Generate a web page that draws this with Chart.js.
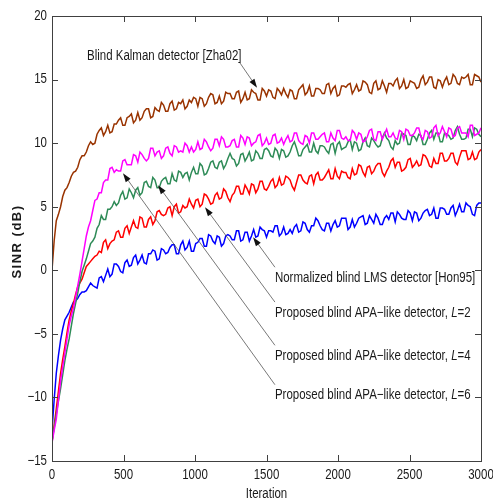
<!DOCTYPE html>
<html>
<head>
<meta charset="utf-8">
<script src="https://cdn.jsdelivr.net/npm/chart.js@4.4.1/dist/chart.umd.min.js"></script>
<style>
  html, body { margin: 0; padding: 0; background: #fff; }
  #wrap { width: 493px; height: 502px; }
</style>
</head>
<body>
<div id="wrap"><canvas id="sinrChart" width="493" height="502"></canvas></div>
<script>
// iteration index of each sample (every 15 iterations)
const iterations = Array.from({ length: 201 }, (_, i) => i * 15);

// SINR (dB)
const kalman = [0, 2.3, 3.9, 4.4, 5.0, 5.8, 6.3, 6.5, 6.9, 7.4,
  7.7, 7.8, 8.1, 8.7, 9.0, 9.0, 9.3, 9.8, 10.1, 9.9,
  10.0, 10.7, 11.0, 11.2, 10.6, 10.9, 11.4, 10.8, 10.9, 11.5,
  11.5, 11.8, 12.0, 11.4, 11.4, 12.0, 12.1, 12.3, 11.6, 11.8,
  12.4, 11.8, 12.0, 12.5, 12.7, 12.7, 12.0, 12.1, 12.8, 12.6,
  12.5, 13.2, 13.0, 12.5, 12.5, 13.1, 13.3, 12.6, 12.7, 13.2,
  13.1, 13.4, 12.7, 12.9, 13.4, 13.2, 13.6, 13.5, 12.9, 13.6,
  13.5, 12.9, 13.1, 13.6, 13.9, 13.8, 13.1, 13.2, 13.7, 13.1,
  13.3, 14.0, 13.9, 13.9, 13.5, 13.5, 14.0, 14.1, 13.2, 13.5,
  14.0, 13.4, 13.5, 14.2, 14.0, 13.9, 13.4, 13.4, 14.3, 14.1,
  13.7, 14.2, 14.1, 13.6, 13.5, 14.3, 14.1, 13.8, 14.3, 13.9,
  13.6, 14.2, 14.1, 13.5, 13.5, 14.2, 14.4, 14.6, 13.8, 14.0,
  14.5, 13.7, 13.7, 14.3, 14.3, 14.2, 13.9, 13.9, 14.6, 14.7,
  13.9, 14.3, 14.5, 13.7, 13.8, 14.5, 14.5, 14.4, 14.6, 14.7,
  13.9, 14.2, 14.6, 14.1, 14.2, 14.9, 14.8, 14.6, 14.0, 13.9,
  14.7, 14.9, 14.2, 14.3, 14.9, 14.5, 14.0, 14.7, 14.7, 14.5,
  14.9, 15.1, 14.3, 14.5, 15.0, 14.3, 14.4, 14.9, 14.8, 14.7,
  14.3, 14.4, 15.0, 15.3, 14.6, 14.8, 15.2, 15.2, 14.4, 14.3,
  15.0, 14.9, 14.4, 14.9, 15.2, 14.6, 14.7, 15.4, 15.2, 14.7,
  14.6, 15.2, 15.1, 15.2, 15.4, 14.6, 14.6, 15.4, 15.3, 15.2,
  14.8];

const apaL6 = [-13.6, -12.6, -11.7, -10.2, -8.7, -7.6, -6.5, -5.4, -4.3, -3.6,
  -3.0, -2.1, -1.2, -0.3, 0.7, 1.7, 2.7, 3.4, 3.9, 4.7,
  5.5, 5.6, 6.1, 6.1, 6.9, 7.1, 7.1, 8.0, 8.1, 7.7,
  7.9, 7.8, 7.8, 8.6, 8.7, 8.3, 8.3, 8.3, 9.1, 9.0,
  8.5, 9.3, 9.1, 8.8, 8.6, 8.8, 9.6, 9.6, 9.0, 9.3,
  9.4, 8.8, 9.0, 9.6, 9.7, 9.2, 9.0, 9.8, 9.7, 9.3,
  9.4, 9.3, 10.0, 9.8, 9.3, 9.7, 9.3, 9.5, 10.1, 9.5,
  9.6, 10.3, 10.1, 9.7, 9.4, 9.6, 10.3, 10.3, 9.8, 10.5,
  10.3, 9.7, 9.7, 9.8, 10.2, 10.3, 9.7, 9.7, 10.6, 10.4,
  9.9, 10.5, 10.4, 9.8, 10.0, 10.1, 10.6, 10.7, 9.8, 10.0,
  10.4, 9.9, 10.0, 10.6, 10.7, 10.0, 10.1, 10.4, 9.9, 10.3,
  10.6, 10.1, 10.2, 10.8, 10.8, 10.2, 10.0, 9.9, 10.6, 10.5,
  10.0, 10.8, 10.8, 10.3, 10.3, 10.5, 10.7, 10.8, 10.1, 10.1,
  10.8, 10.4, 10.2, 11.0, 11.0, 10.4, 10.3, 10.5, 10.2, 10.2,
  11.0, 10.8, 10.3, 10.8, 10.7, 10.1, 10.2, 10.5, 11.0, 11.1,
  10.3, 10.2, 10.9, 10.9, 10.3, 10.7, 11.1, 10.5, 10.5, 10.8,
  10.4, 10.3, 11.0, 10.9, 10.3, 11.1, 11.0, 10.6, 10.6, 10.8,
  11.2, 11.2, 10.5, 10.3, 11.0, 10.9, 10.4, 10.5, 11.2, 11.4,
  10.6, 10.8, 11.3, 10.9, 10.5, 11.2, 11.1, 10.5, 10.6, 11.2,
  11.3, 10.8, 10.8, 10.8, 10.5, 11.4, 11.4, 10.6, 10.7, 10.8,
  11.2];

const apaL4 = [-13.5, -12.4, -11.3, -10.3, -9.3, -8.2, -7.1, -6.2, -5.4, -4.4,
  -3.4, -2.6, -1.8, -0.9, -0.1, 0.4, 0.9, 1.5, 2.1, 2.3,
  2.6, 3.3, 3.6, 4.3, 4.0, 4.0, 4.8, 4.8, 5.0, 5.4,
  5.1, 5.3, 5.9, 6.2, 5.6, 5.7, 6.4, 6.1, 5.7, 6.3,
  6.5, 5.9, 6.1, 6.9, 7.0, 6.6, 6.5, 7.3, 7.1, 6.5,
  6.5, 7.0, 7.2, 7.3, 6.8, 6.8, 7.6, 7.1, 7.0, 7.8,
  7.7, 7.3, 7.6, 7.7, 7.1, 7.7, 8.1, 7.6, 7.6, 8.4,
  8.2, 7.5, 7.6, 8.0, 8.5, 8.6, 8.1, 8.0, 8.5, 8.6,
  8.0, 8.3, 8.8, 9.2, 8.8, 8.7, 8.2, 8.4, 9.1, 9.2,
  8.6, 8.9, 9.3, 8.6, 8.7, 9.4, 9.2, 8.8, 8.8, 9.5,
  9.6, 9.4, 9.0, 8.9, 9.6, 9.4, 8.8, 9.5, 9.4, 8.9,
  9.0, 9.3, 9.8, 10.1, 9.6, 9.0, 9.0, 9.5, 9.7, 9.9,
  9.3, 9.3, 10.0, 9.4, 9.2, 9.8, 9.8, 9.7, 9.4, 9.2,
  9.9, 10.0, 9.2, 9.9, 10.1, 9.5, 9.6, 9.7, 10.1, 10.3,
  9.5, 10.1, 10.0, 9.4, 9.5, 10.1, 10.4, 9.8, 9.7, 10.4,
  10.2, 9.9, 9.7, 9.8, 10.4, 10.8, 10.4, 10.2, 9.7, 9.5,
  10.2, 9.9, 10.0, 10.8, 10.7, 10.6, 9.9, 9.9, 10.6, 10.5,
  10.2, 10.7, 10.6, 9.9, 9.9, 10.3, 10.8, 11.0, 10.3, 10.8,
  10.8, 10.1, 10.1, 10.8, 10.7, 10.6, 10.3, 10.4, 11.0, 11.3,
  10.7, 10.3, 10.3, 10.4, 11.1, 11.1, 10.5, 11.2, 11.1, 10.7,
  10.5];

const apaL2 = [-13.5, -12.2, -10.9, -9.5, -8.1, -7.0, -6.0, -4.9, -3.9, -3.2,
  -2.6, -1.9, -1.3, -1.0, -0.7, -0.2, 0.3, 0.5, 0.7, 0.9,
  1.1, 1.2, 1.5, 1.4, 2.2, 2.4, 1.7, 2.1, 2.3, 2.4,
  3.0, 3.1, 2.6, 2.6, 3.3, 3.5, 2.9, 3.4, 3.9, 3.4,
  3.3, 4.2, 4.1, 3.4, 3.4, 4.0, 4.2, 3.6, 3.9, 4.6,
  4.7, 4.4, 4.3, 4.4, 4.9, 5.0, 4.3, 5.0, 5.2, 4.5,
  4.6, 5.1, 4.9, 5.0, 5.6, 5.2, 4.9, 5.5, 5.6, 5.0,
  5.2, 6.0, 5.9, 5.6, 5.2, 5.3, 5.9, 6.1, 5.6, 5.7,
  6.4, 6.2, 5.7, 5.4, 5.9, 6.1, 6.6, 6.6, 6.0, 6.0,
  6.7, 6.4, 6.0, 6.8, 6.7, 6.1, 6.4, 7.0, 7.0, 6.4,
  6.3, 6.6, 7.0, 7.2, 6.5, 6.7, 7.3, 6.7, 6.8, 7.4,
  7.3, 7.1, 6.6, 6.3, 6.9, 7.5, 7.5, 7.1, 6.9, 6.8,
  7.4, 7.5, 6.8, 7.5, 7.7, 7.1, 7.1, 7.3, 7.6, 7.9,
  7.2, 7.2, 8.0, 7.4, 7.2, 7.8, 7.7, 7.7, 7.3, 7.2,
  8.0, 7.5, 7.6, 8.3, 8.2, 7.7, 7.4, 8.1, 8.2, 7.6,
  7.8, 8.2, 8.4, 8.4, 7.7, 7.4, 7.8, 8.1, 8.6, 8.8,
  8.1, 8.5, 8.5, 7.8, 7.9, 8.1, 8.7, 8.8, 8.1, 8.3,
  8.6, 8.2, 8.3, 9.1, 9.0, 8.7, 8.2, 8.1, 8.8, 8.4,
  8.4, 9.2, 9.2, 8.6, 8.6, 8.8, 9.2, 9.2, 8.5, 8.3,
  8.9, 9.4, 9.4, 9.4, 8.7, 8.8, 9.3, 8.7, 8.8, 9.3,
  9.5];

const nlms = [-12.6, -10.2, -8.1, -6.7, -5.5, -4.6, -3.9, -3.6, -3.3, -2.9,
  -2.5, -2.4, -2.2, -1.9, -1.7, -1.7, -1.6, -1.3, -1.0, -1.2,
  -1.3, -1.4, -0.6, -0.5, -0.9, -0.4, 0.1, -0.5, -0.3, 0.5,
  0.5, 0.3, -0.1, -0.2, 0.6, 0.8, 0.3, 0.4, 1.0, 1.2,
  0.5, 0.8, 1.2, 0.6, 0.5, 1.3, 1.3, 1.6, 1.5, 0.8,
  0.9, 1.7, 1.6, 1.3, 1.4, 1.8, 2.0, 2.0, 1.3, 1.3,
  2.0, 2.3, 1.6, 1.8, 2.3, 1.5, 1.5, 2.1, 2.2, 2.5,
  2.5, 1.9, 1.9, 2.8, 2.7, 2.3, 2.1, 2.7, 2.6, 1.9,
  2.1, 2.7, 2.8, 2.7, 2.4, 2.4, 3.1, 3.1, 2.3, 2.4,
  3.0, 3.0, 2.3, 2.7, 3.2, 2.6, 2.7, 3.4, 3.2, 3.1,
  2.6, 3.1, 3.1, 3.0, 3.5, 3.5, 2.7, 2.9, 3.4, 2.8,
  2.9, 3.2, 2.9, 3.4, 3.6, 3.0, 3.1, 3.8, 3.7, 3.2,
  3.0, 3.5, 3.5, 4.1, 3.9, 3.5, 3.2, 3.1, 3.7, 3.7,
  3.1, 3.6, 3.9, 3.4, 3.5, 4.1, 4.1, 4.1, 3.2, 3.4,
  4.0, 3.4, 3.7, 4.1, 4.2, 4.3, 3.6, 3.7, 4.3, 4.0,
  3.7, 4.4, 4.1, 3.6, 3.6, 4.1, 4.3, 4.0, 4.5, 4.5,
  3.8, 4.6, 4.4, 4.1, 4.0, 4.0, 4.7, 4.5, 3.9, 4.6,
  4.5, 3.9, 4.1, 4.5, 4.7, 4.8, 4.3, 4.4, 4.9, 4.1,
  4.1, 4.9, 4.9, 4.8, 4.4, 4.4, 4.9, 5.1, 4.3, 4.7,
  5.2, 4.6, 4.6, 5.3, 5.1, 5.0, 4.4, 4.3, 5.1, 5.3,
  5.3];

const xTicks = [0, 500, 1000, 1500, 2000, 2500, 3000];
const yTicks = [-15, -10, -5, 0, 5, 10, 15, 20];

const SANS = "'Liberation Sans', Arial, sans-serif";
const NARROW = 0.82; // the figure uses a condensed face; squeeze the regular one

// callouts: label text, where the text sits, and the arrow (tail -> tip), all in data units
const callouts = [
  { text: 'Blind Kalman detector [Zha02]', at: [245, 16.85], tail: [1315, 16.3], tip: [1434, 14.35] },
  { text: 'Normalized blind LMS detector [Hon95]', at: [1559, -0.63], tail: [1559, 0.24], tip: [1406, 2.6] },
  { text: 'Proposed blind APA\u2212like detector, ', italic: 'L', rest: '=2', at: [1559, -3.39], tail: [1559, -2.5], tip: [1070, 4.96] },
  { text: 'Proposed blind APA\u2212like detector, ', italic: 'L', rest: '=4', at: [1559, -6.77], tail: [1559, -5.9], tip: [741, 6.69] },
  { text: 'Proposed blind APA\u2212like detector, ', italic: 'L', rest: '=6', at: [1559, -9.84], tail: [1559, -9.0], tip: [496, 7.64] }
];

const toPoints = vals => vals.map((v, i) => ({ x: iterations[i], y: v }));
const fmt = v => (v < 0 ? '\u2212' + Math.abs(v) : String(v));

// draw text squeezed horizontally, returns drawn width
function narrowText(ctx, text, x, y, align, style) {
  ctx.save();
  ctx.font = (style ? style + ' ' : '') + '14px ' + SANS;
  ctx.translate(x, y);
  ctx.scale(NARROW, 1);
  ctx.textAlign = align;
  ctx.textBaseline = 'middle';
  ctx.fillText(text, 0, 0);
  const w = ctx.measureText(text).width * NARROW;
  ctx.restore();
  return w;
}

const matlabFrame = {
  id: 'matlabFrame',
  afterDraw(chart) {
    const { ctx, chartArea: a, scales: { x, y } } = chart;
    ctx.save();
    ctx.strokeStyle = '#404040';
    ctx.lineWidth = 1;
    ctx.strokeRect(Math.round(a.left) + 0.5, Math.round(a.top) + 0.5,
      Math.round(a.right - a.left), Math.round(a.bottom - a.top));
    ctx.beginPath();
    xTicks.forEach(v => {
      const px = Math.round(x.getPixelForValue(v)) + 0.5;
      ctx.moveTo(px, a.bottom); ctx.lineTo(px, a.bottom - 6);
      ctx.moveTo(px, a.top); ctx.lineTo(px, a.top + 6);
    });
    yTicks.forEach(v => {
      const py = Math.round(y.getPixelForValue(v)) + 0.5;
      ctx.moveTo(a.left, py); ctx.lineTo(a.left + 6, py);
      ctx.moveTo(a.right, py); ctx.lineTo(a.right - 6, py);
    });
    ctx.stroke();

    // tick labels
    ctx.fillStyle = '#1a1a1a';
    xTicks.forEach(v => narrowText(ctx, fmt(v), x.getPixelForValue(v), a.bottom + 14, 'center'));
    yTicks.forEach(v => narrowText(ctx, fmt(v), a.left - 5, y.getPixelForValue(v), 'right'));

    // arrows and labels
    callouts.forEach(c => {
      const x0 = x.getPixelForValue(c.tail[0]), y0 = y.getPixelForValue(c.tail[1]);
      const x1 = x.getPixelForValue(c.tip[0]), y1 = y.getPixelForValue(c.tip[1]);
      const ang = Math.atan2(y1 - y0, x1 - x0);
      ctx.strokeStyle = '#555';
      ctx.lineWidth = 0.8;
      ctx.beginPath();
      ctx.moveTo(x0, y0);
      ctx.lineTo(x1 - 6 * Math.cos(ang), y1 - 6 * Math.sin(ang));
      ctx.stroke();
      ctx.fillStyle = '#111';
      ctx.beginPath();
      ctx.moveTo(x1, y1);
      ctx.lineTo(x1 - 9 * Math.cos(ang) + 3 * Math.sin(ang), y1 - 9 * Math.sin(ang) - 3 * Math.cos(ang));
      ctx.lineTo(x1 - 9 * Math.cos(ang) - 3 * Math.sin(ang), y1 - 9 * Math.sin(ang) + 3 * Math.cos(ang));
      ctx.closePath();
      ctx.fill();

      let tx = x.getPixelForValue(c.at[0]);
      const ty = y.getPixelForValue(c.at[1]);
      ctx.fillStyle = '#1a1a1a';
      tx += narrowText(ctx, c.text, tx, ty, 'left');
      if (c.italic) {
        tx += narrowText(ctx, c.italic, tx, ty, 'left', 'italic');
        narrowText(ctx, c.rest, tx, ty, 'left');
      }
    });

    // axis titles
    narrowText(ctx, 'Iteration', (a.left + a.right) / 2, 494, 'center');

    ctx.translate(17, (a.top + a.bottom) / 2 + 3);
    ctx.rotate(-Math.PI / 2);
    ctx.textAlign = 'center';
    ctx.textBaseline = 'middle';
    ctx.font = 'bold 13px ' + SANS;
    ctx.letterSpacing = '1.5px';
    ctx.fillText('SINR (dB)', 0, 0);
    ctx.restore();
  }
};

const series = [
  { label: 'Blind Kalman detector [Zha02]', data: kalman, color: '#993300' },
  { label: 'Proposed blind APA-like detector, L=6', data: apaL6, color: '#ff00ff' },
  { label: 'Proposed blind APA-like detector, L=4', data: apaL4, color: '#2e8b57' },
  { label: 'Proposed blind APA-like detector, L=2', data: apaL2, color: '#ff0000' },
  { label: 'Normalized blind LMS detector [Hon95]', data: nlms, color: '#0000ff' }
];

new Chart(document.getElementById('sinrChart'), {
  type: 'line',
  data: {
    datasets: series.map(s => ({
      label: s.label,
      data: toPoints(s.data),
      borderColor: s.color,
      backgroundColor: s.color,
      borderWidth: 1.5,
      pointRadius: 0,
      tension: 0,
      fill: false
    }))
  },
  options: {
    responsive: false,
    animation: false,
    devicePixelRatio: 1,
    layout: { padding: { top: 16, right: 12, left: 0, bottom: 0 } },
    plugins: { legend: { display: false }, tooltip: { enabled: false } },
    scales: {
      x: {
        type: 'linear',
        min: 0,
        max: 3000,
        grid: { display: false, drawTicks: false },
        border: { display: false },
        afterBuildTicks: s => { s.ticks = xTicks.map(v => ({ value: v })); },
        afterFit: s => { s.height = 41; s.paddingLeft = 0; s.paddingRight = 0; },
        ticks: { display: false }
      },
      y: {
        min: -15,
        max: 20,
        grid: { display: false, drawTicks: false },
        border: { display: false },
        afterBuildTicks: s => { s.ticks = yTicks.map(v => ({ value: v })); },
        afterFit: s => { s.width = 52; s.paddingTop = 0; s.paddingBottom = 0; },
        ticks: { display: false }
      }
    }
  },
  plugins: [matlabFrame]
});
</script>
</body>
</html>
